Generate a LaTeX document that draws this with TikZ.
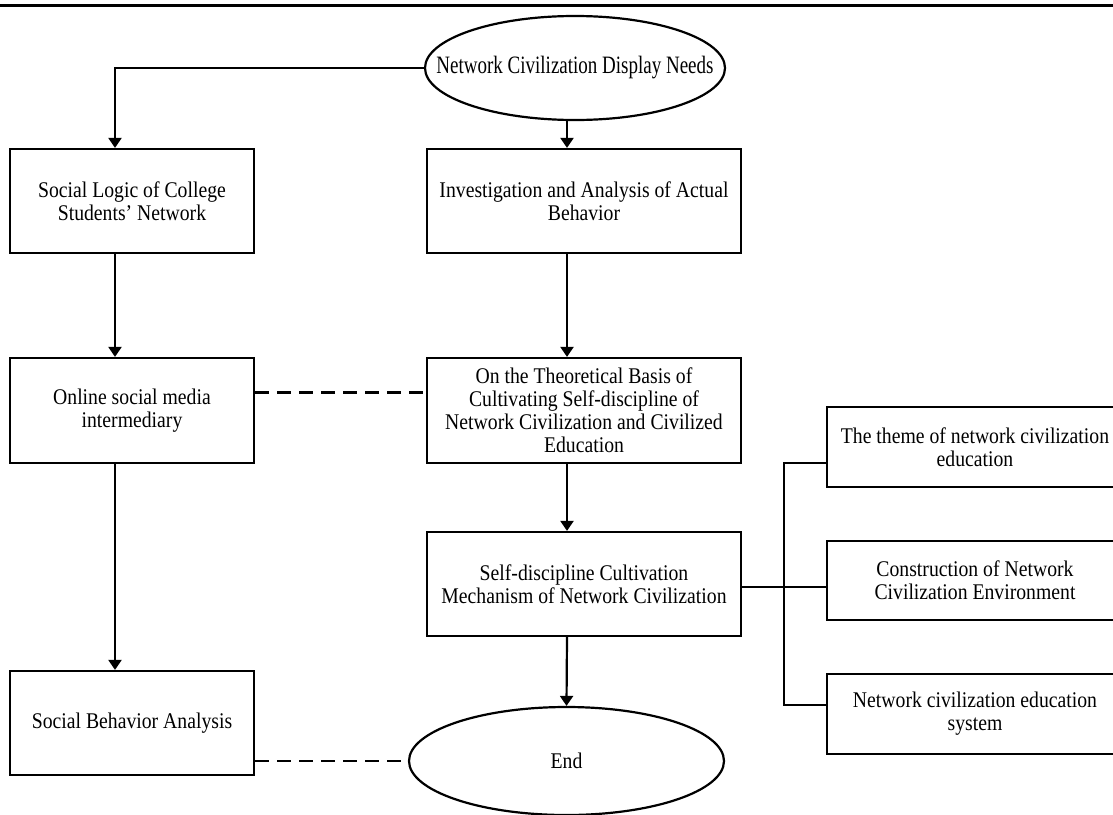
\documentclass[tikz,border=0pt]{standalone}
\usepackage{graphicx,xcolor}
\usepackage{fontspec}
\setmainfont{Liberation Serif}[FakeStretch=0.88]
\newfontfamily\tallfont{Liberation Serif}[FakeStretch=0.76]
\usepackage{tikz}
\usetikzlibrary{arrows.meta}
\usetikzlibrary{shapes}
\usetikzlibrary{positioning}

\begin{document}
\begin{tikzpicture}[x=1pt, y=-1pt, line width=2.2pt,
	box/.style={draw, rectangle, inner sep=0pt, align=center, font=\fontsize{22.4pt}{23pt}\selectfont},
	oval/.style={draw, ellipse, inner sep=0pt, font=\fontsize{22.4pt}{23pt}\selectfont},
	arrow/.style={->, >={Triangle[width=13pt,length=10pt]}},
	link/.style={dash pattern=on 14pt off 8pt}]
	\useasboundingbox (0,0) rectangle (1113,814);
	\clip (0,0) rectangle (1113,814);
	\draw[line width=3pt] (0,5) -- (1113,5);

	% ovals
	\node[oval, minimum width=300pt, minimum height=104pt] (needs) at (575,68) {\makebox[0pt]{\tallfont\fontsize{25pt}{25pt}\selectfont Network Civilization Display Needs}};
	\node[oval, minimum width=315pt, minimum height=108pt] (endnode) at (566.5,761) {\makebox[0pt]{End}};

	% left column
	\node[box, minimum width=244pt, minimum height=104pt] (logic) at (132,201) {Social Logic of College\\Students' Network};
	\node[box, minimum width=244pt, minimum height=105pt] (online) at (132,410.5) {Online social media\\intermediary};
	\node[box, minimum width=244pt, minimum height=104pt] (behav) at (132,723) {Social Behavior Analysis};

	% middle column
	\node[box, minimum width=314pt, minimum height=104pt] (invest) at (584,201) {Investigation and Analysis of Actual\\Behavior};
	\node[box, minimum width=314pt, minimum height=105pt] (theory) at (584,410.5) {On the Theoretical Basis of\\Cultivating Self-discipline of\\Network Civilization and Civilized\\Education};
	\node[box, minimum width=314pt, minimum height=104pt] (self) at (584,584) {Self-discipline Cultivation\\Mechanism of Network Civilization};

	% right column
	\node[box, minimum width=296pt, minimum height=80pt] (theme) at (975,447) {The theme of network civilization\\education};
	\node[box, minimum width=296pt, minimum height=79pt] (constr) at (975,580.5) {Construction of Network\\Civilization Environment};
	\node[box, minimum width=296pt, minimum height=80pt] (system) at (975,714) {Network civilization education\\system};
	\coordinate (bus) at (784,587);

	% arrows
	\draw[arrow] (needs.west) -| ([xshift=-17pt]logic.north);
	\draw[arrow] ([xshift=-17pt]invest.north |- needs.south) -- ([xshift=-17pt]invest.north);
	\draw[arrow] ([xshift=-17pt]logic.south) -- ([xshift=-17pt]online.north);
	\draw[arrow] ([xshift=-17pt]online.south) -- ([xshift=-17pt]behav.north);
	\draw[arrow] ([xshift=-17pt]invest.south) -- ([xshift=-17pt]theory.north);
	\draw[arrow] ([xshift=-17pt]theory.south) -- ([xshift=-17pt]self.north);
	\draw[arrow] ([xshift=-17pt]self.south) -- (endnode.north);

	% dashed links
	\draw[link] ([yshift=18pt]online.east) -- ([yshift=18pt]theory.west);
	\draw[link] ([yshift=-38pt]behav.east) -- (endnode.west);

	% bracket
	\draw ([yshift=-3pt]self.east) -- (bus -| constr.west);
	\draw ([yshift=-16pt]theme.west) -| (bus) |- ([yshift=9pt]system.west);
\end{tikzpicture}
\end{document}
